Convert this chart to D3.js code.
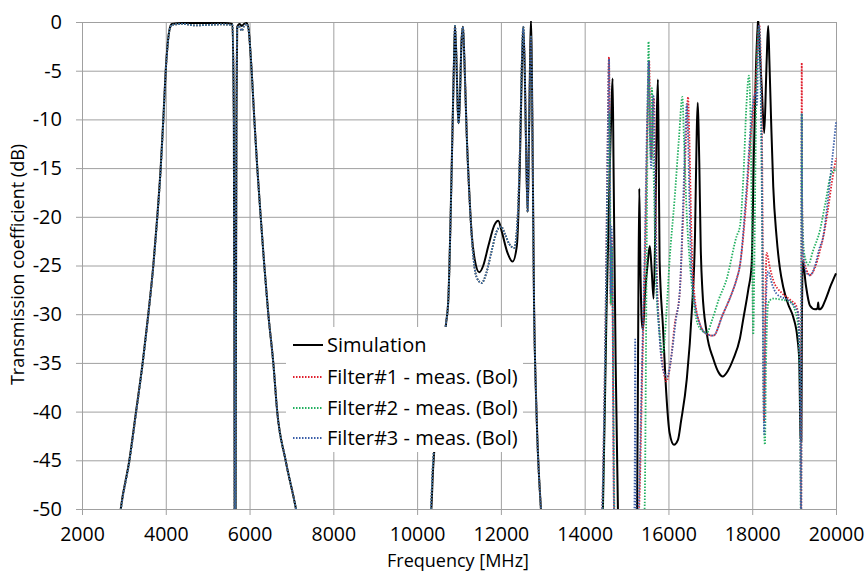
<!DOCTYPE html>
<html>
<head>
<meta charset="utf-8">
<script src="https://cdn.jsdelivr.net/npm/d3@7"></script>
<style>
body { margin: 0; background: #fff; }
#chart { width: 867px; height: 572px; }
text { font-family: "Open Sans", sans-serif; fill: #000; }
</style>
</head>
<body>
<div id="chart"></div>
<script>
//Ejes
const freqTicks = [2000, 4000, 6000, 8000, 10000, 12000, 14000, 16000, 18000, 20000];
const dbTicks = [0, -5, -10, -15, -20, -25, -30, -35, -40, -45, -50];

//Series: [frecuencia MHz, dB]
const simulation = [
  [2800,-55],[2924,-50],[3130,-45],[3290,-40],[3448,-35],[3583,-30],[3702,-25],[3797,-20],[3878,-15],[3941,-10],[3998,-5],[4040,-2.5],[4080,-1],[4141,-0.2],[4400,-0.1],[4900,-0.1],[5400,-0.1],[5590,-0.2],
  [5625,-10],[5640,-40],[5650,-60],[5662,-60],[5672,-40],[5687,-10],[5705,-0.5],[5760,-0.2],[5812,-0.4],[5870,-0.2],[5931,-0.1],[5980,-0.8],[6020,-3],[6050,-5],[6114,-10],[6185,-15],[6266,-20],[6352,-25],[6448,-30],[6567,-35],[6660,-40],[6860,-45],[7108,-50],[7300,-55],
  [10200,-55],[10340,-50],[10380,-46],[10450,-42],[10540,-38],[10620,-34],[10690,-31],[10745,-28.5],[10800,-20],[10850,-10],[10880,-4],[10904,-0.4],[10940,-4],[10970,-9],[10992,-10.4],[11020,-8],[11060,-2],[11094,-0.5],[11130,-4],[11183,-11.4],[11240,-17],[11302,-21.7],[11380,-24.5],[11484,-25.7],[11580,-25],[11700,-23],[11850,-20.8],[11937,-20.4],[12020,-21.5],[12150,-23.6],[12280,-24.6],[12380,-23],[12450,-15],[12500,-5],[12535,-0.5],[12570,-5],[12610,-15],[12640,-19.5],[12670,-12],[12700,-3],[12719,0.3],[12740,-5],[12790,-28.5],[12850,-40],[12956,-50],[13050,-55],
  [14380,-55],[14436,-50],[14520,-30],[14600,-15],[14645,-8],[14667,-5.8],[14690,-15],[14740,-35],[14794,-50],[14850,-55],
  [15200,-55],[15252,-50],[15280,-30],[15304,-17.1],[15330,-25],[15360,-30.5],[15391,-31.6],[15440,-28],[15510,-24.5],[15555,-23],[15600,-25.5],[15646,-28.4],[15690,-20],[15725,-9],[15749,-5.9],[15768,-14],[15789,-24.4],[15869,-31.3],[15948,-38.1],[16028,-42.2],[16131,-43.4],[16227,-42.9],[16300,-41],[16437,-36.7],[16556,-29.8],[16635,-21.7],[16675,-11.4],[16699,-8.3],[16720,-11],[16738,-14.8],[16770,-23],[16810,-27.5],[16913,-31.9],[17072,-34.6],[17200,-36],[17294,-36.4],[17420,-35.8],[17548,-34.6],[17706,-32.5],[17786,-30.5],[17905,-27.5],[17985,-25],[18040,-13.5],[18088,-4.9],[18130,-0.5],[18144,0.3],[18175,-2.5],[18230,-7],[18287,-11.4],[18330,-6],[18360,-2],[18382,-0.4],[18410,-4],[18450,-10],[18502,-16.9],[18580,-22],[18661,-25.3],[18740,-27.2],[18860,-29],[18979,-30.3],[19080,-32.5],[19122,-34.7],[19154,-42.6],[19172,-43],[19188,-30],[19205,-24.5],[19280,-27],[19377,-29.1],[19500,-29.5],[19560,-29.4],[19575,-28.8],[19590,-29.5],[19650,-29.4],[19750,-28.5],[19880,-27],[20000,-25.8]
];

//Tramos comunes de las tres medidas
const measPassband = [
  [2800,-55],[2930,-50],[3135,-45],[3295,-40],[3450,-35],[3585,-30],[3704,-25],[3799,-20],[3880,-15],[3943,-10],[4000,-5],[4042,-2.5],[4082,-1],[4145,-0.3],[4400,-0.2],[4700,-0.35],[5000,-0.3],[5300,-0.25],[5590,-0.3],
  [5625,-10],[5640,-40],[5650,-60],[5662,-60],[5672,-40],[5687,-10],[5705,-0.6],[5750,-0.4],[5812,-0.9],[5870,-0.4],[5931,-0.2],[5980,-0.9],[6020,-3],[6050,-5],[6114,-10],[6185,-15],[6266,-20],[6352,-25],[6448,-30],[6567,-35],[6660,-40],[6860,-45],[7108,-50],[7300,-55]
];
const measMidband = [
  [10200,-55],[10330,-50],[10370,-46],[10440,-42],[10530,-38],[10615,-34],[10688,-31],[10745,-28.5],[10800,-20],[10850,-10],[10880,-4],[10904,-0.4],[10940,-4],[10970,-9],[10992,-10.4],[11020,-8],[11060,-2],[11094,-0.5],[11130,-4],[11183,-11.4],[11250,-18],[11320,-23],[11420,-26.2],[11540,-26.8],[11650,-25.8],[11780,-23.5],[11900,-21.5],[12002,-21.0],[12100,-21.8],[12200,-22.8],[12319,-23.2],[12400,-20],[12460,-12],[12500,-4],[12535,-0.5],[12570,-5],[12610,-15],[12640,-19.5],[12670,-12],[12700,-4],[12719,-1.5],[12740,-6],[12790,-28.5],[12850,-40],[12956,-50],[13050,-55]
];

const filter1High = [
  [14380,-55],[14420,-50],[14500,-30],[14550,-12],[14580,-3.6],[14600,-15],[14620,-29],[14640,-22],[14660,-26],[14700,-50],[14750,-55],
  [15200,-55],[15300,-50],[15380,-35],[15450,-22],[15500,-10],[15540,-4],[15570,-12],[15600,-14],[15630,-9],[15654,-7.8],[15680,-14],[15720,-25],[15790,-32],[15870,-35.5],[15948,-36.9],[16050,-35],[16150,-31],[16267,-27.9],[16350,-20],[16420,-12],[16468,-7.7],[16500,-12],[16550,-22],[16620,-28],[16750,-31],[16900,-32],[17072,-32.2],[17300,-30],[17500,-28],[17627,-26.4],[17706,-25],[17865,-18],[17960,-12],[18040,-8.5],[18100,-5],[18140,-1.5],[18168,-0.3],[18200,-3],[18240,-15],[18265,-33],[18282,-41],[18305,-32],[18343,-23.7],[18420,-25.2],[18502,-26.5],[18700,-27.8],[18900,-28.5],[19059,-29.2],[19120,-31.3],[19150,-40],[19170,-52],[19182,-4.2],[19192,-18],[19220,-24],[19300,-25.5],[19377,-26],[19500,-25.2],[19616,-23.5],[19700,-22],[19800,-19.5],[19900,-16.5],[20000,-14]
];
const filter2High = [
  [14380,-55],[14430,-50],[14510,-30],[14560,-15],[14590,-9.3],[14610,-18],[14625,-29],[14645,-23],[14665,-27],[14710,-50],[14760,-55],
  [15350,-55],[15431,-50],[15470,-30],[15500,-12],[15526,-2.0],[15550,-10],[15580,-14],[15606,-6.8],[15640,-14],[15700,-26],[15780,-31.5],[15869,-34],[15950,-30],[16028,-24.4],[16150,-18],[16250,-12],[16333,-7.7],[16370,-12],[16440,-20],[16516,-25],[16635,-29.8],[16760,-31.5],[16913,-31.9],[17050,-30.5],[17200,-28.5],[17389,-26.4],[17627,-22],[17706,-21],[17786,-16.2],[17865,-8.3],[17921,-5.5],[17950,-8],[17990,-20],[18024,-32.1],[18050,-25],[18090,-10],[18130,-2],[18160,-0.5],[18190,-4],[18230,-18],[18270,-38],[18303,-43.4],[18330,-35],[18382,-28.9],[18440,-28.5],[18502,-28.4],[18700,-28.5],[18900,-28.7],[19080,-30.6],[19140,-38],[19165,-52],[19182,-9.4],[19195,-20],[19250,-24],[19337,-24.9],[19450,-23.5],[19616,-21.4],[19750,-18.5],[19894,-15.5],[20000,-15.2]
];
const filter3High = [
  [14380,-55],[14420,-50],[14500,-30],[14550,-12],[14582,-3.8],[14600,-14],[14620,-28],[14640,-21],[14660,-25],[14700,-50],[14750,-55],
  [15170,-55],[15196,-45],[15206,-32.6],[15216,-45],[15240,-55],[15290,-50],[15370,-35],[15440,-22],[15490,-10],[15530,-4],[15560,-12],[15590,-15],[15620,-9],[15640,-7.5],[15670,-14],[15710,-25],[15790,-32.5],[15880,-35.8],[15972,-36.4],[16080,-34],[16180,-30.5],[16267,-27.9],[16340,-20],[16400,-12],[16437,-8.4],[16470,-12],[16520,-22],[16600,-28],[16750,-31],[16900,-32],[17072,-32.2],[17300,-30],[17500,-28],[17627,-26.4],[17706,-25],[17865,-17],[17960,-11],[18030,-8],[18088,-7.2],[18115,-8.5],[18140,-3],[18160,-0.3],[18190,-3],[18230,-15],[18262,-35],[18286,-42.3],[18310,-33],[18350,-26.5],[18382,-25.6],[18480,-27],[18582,-27.9],[18900,-28.7],[19098,-29.9],[19145,-40],[19168,-52],[19182,-9.4],[19193,-20],[19230,-24.5],[19300,-25.8],[19377,-26],[19500,-25],[19600,-23.3],[19695,-22],[19800,-18.5],[19900,-14.5],[20000,-10.3]
];

const seriesNames = ['Simulation', 'Filter#1 - meas. (Bol)', 'Filter#2 - meas. (Bol)', 'Filter#3 - meas. (Bol)'];
const seriesColors = ['#000000', '#e0202e', '#22b060', '#3a5ea8'];

let series = [
  simulation,
  measPassband.concat(measMidband, filter1High),
  measPassband.concat(measMidband, filter2High),
  measPassband.concat(measMidband, filter3High)
];

let margin = {top: 22, right: 31, bottom: 63, left: 82},
    width = 867 - margin.left - margin.right,
    height = 572 - margin.top - margin.bottom;

let svg = d3.select('#chart')
    .append('svg')
      .attr('width', width + margin.left + margin.right)
      .attr('height', height + margin.top + margin.bottom)
    .append('g')
      .attr('transform', 'translate(' + margin.left + ',' + margin.top + ')');

let x = d3.scaleLinear().domain([2000, 20000]).range([0, width]);
let y = d3.scaleLinear().domain([-50, 0]).range([height, 0]);

//Rejilla + ejes
let xAxis = function(g) {
    g.call(d3.axisBottom(x).tickValues(freqTicks).tickSize(-height).tickPadding(18.5).tickFormat(function(d) { return String(d); }));
    g.select('.domain').remove();
    g.selectAll('.tick line').attr('y1', 6).attr('stroke', '#a0a0a0');
    g.selectAll('text').style('font-size', '19.5px');
};
let yAxis = function(g) {
    g.call(d3.axisLeft(y).tickValues(dbTicks).tickSize(-width).tickPadding(20).tickFormat(function(d) { return String(d); }));
    g.select('.domain').remove();
    g.selectAll('.tick line').attr('x1', -6).attr('stroke', '#a0a0a0');
    g.selectAll('text').style('font-size', '20px');
};

svg.append('g').attr('transform', 'translate(0,' + height + ')').call(xAxis);
svg.append('g').call(yAxis);

svg.append('clipPath').attr('id', 'plotclip')
    .append('rect').attr('x', 0).attr('y', -1).attr('width', width + 1).attr('height', height + 1);

let line = d3.line()
    .x(function(d) { return x(d[0]); })
    .y(function(d) { return y(d[1]); })
    .curve(d3.curveMonotoneX);

svg.append('g').attr('clip-path', 'url(#plotclip)')
    .selectAll('path')
    .data(series)
    .enter()
    .append('path')
    .attr('d', function(d) { return line(d); })
    .attr('fill', 'none')
    .attr('stroke', function(d, i) { return seriesColors[i]; })
    .attr('stroke-width', function(d, i) { return i == 0 ? 2 : 1.8; })
    .attr('stroke-dasharray', function(d, i) { return i == 0 ? null : '1.5,1.5'; });

//Títulos de ejes
svg.append('text')
    .attr('x', x(11000) - 1)
    .attr('y', height + 57.6)
    .attr('text-anchor', 'middle')
    .style('font-size', '18px')
    .text('Frequency [MHz]');

svg.append('text')
    .attr('transform', 'translate(' + (-58) + ',' + (y(-25) - 1) + ')rotate(-90)')
    .attr('text-anchor', 'middle')
    .style('font-size', '18px')
    .text('Transmission coefficient (dB)');

//Leyenda
let legend = svg.append('g').attr('transform', 'translate(' + (286 - margin.left) + ',' + (327 - margin.top) + ')');
legend.append('rect').attr('width', 237).attr('height', 125).attr('fill', '#fff');
let items = legend.selectAll('.item')
    .data(seriesNames)
    .enter()
    .append('g')
    .attr('transform', function(d, i) { return 'translate(0,' + [18, 50, 81, 111][i] + ')'; });
items.append('line')
    .attr('x1', 7).attr('x2', 37)
    .attr('stroke', function(d, i) { return seriesColors[i]; })
    .attr('stroke-width', function(d, i) { return i == 0 ? 2 : 1.8; })
    .attr('stroke-dasharray', function(d, i) { return i == 0 ? null : '1.5,1.5'; });
items.append('text')
    .attr('x', 41)
    .attr('dy', '0.35em')
    .style('font-size', '20px')
    .text(function(d) { return d; });
</script>
</body>
</html>
